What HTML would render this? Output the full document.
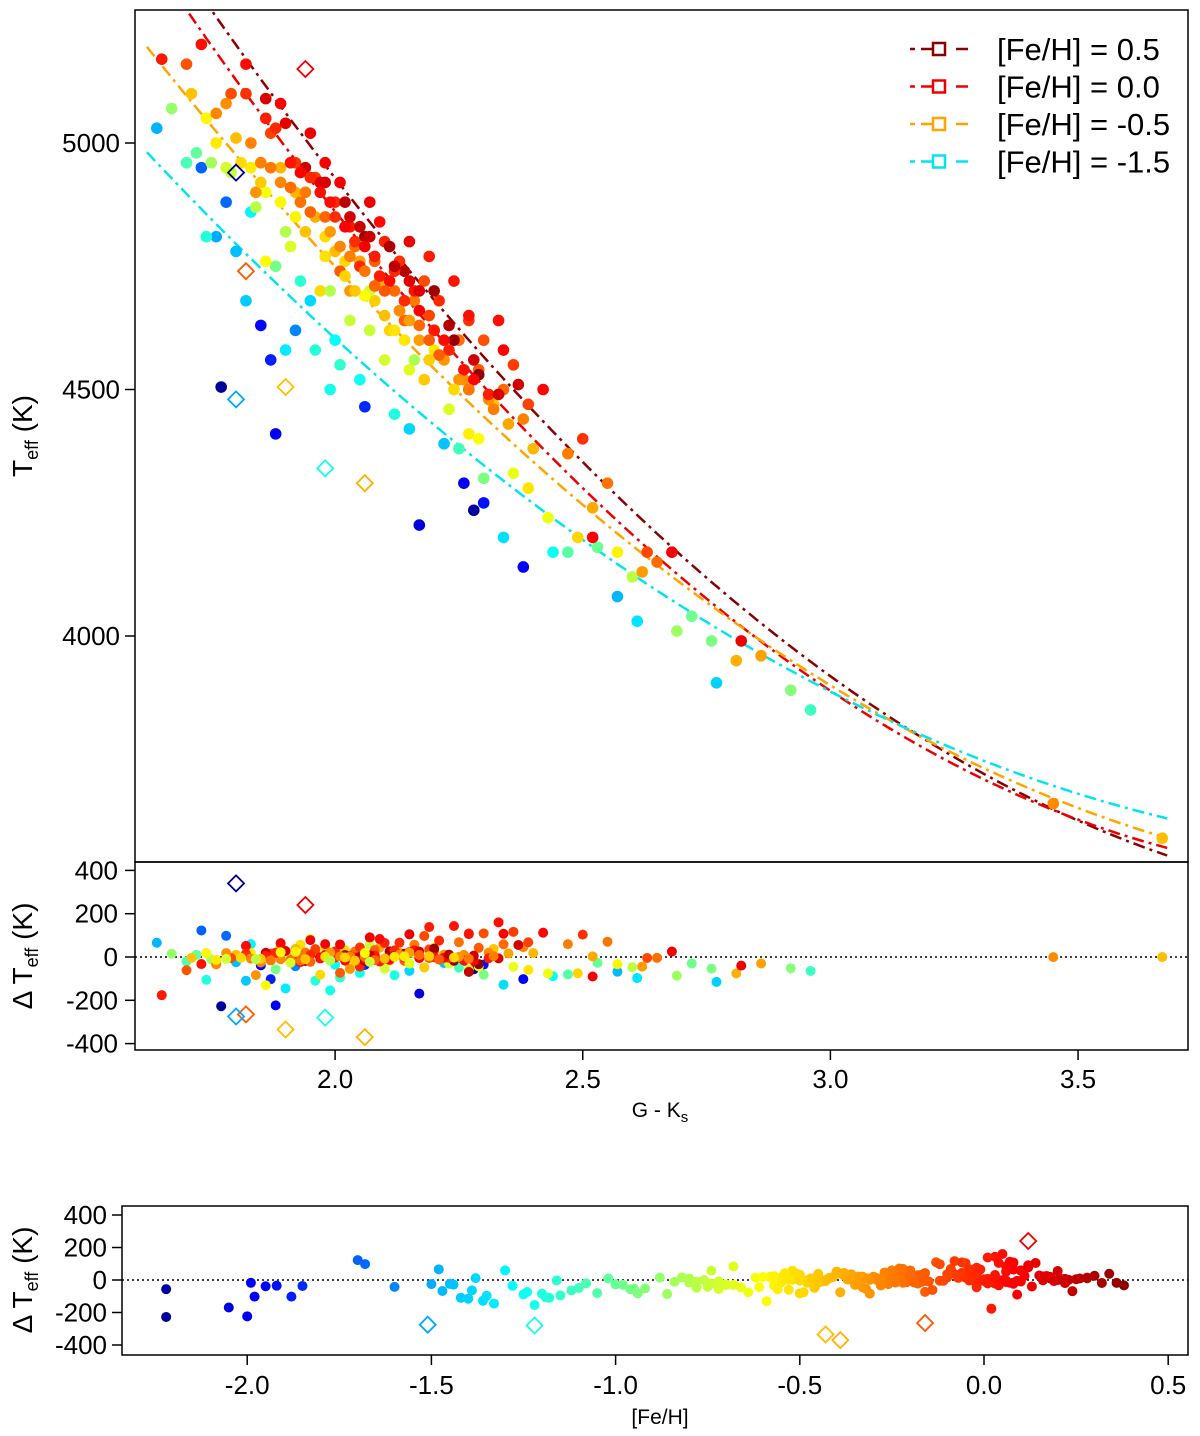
<!DOCTYPE html>
<html><head><meta charset="utf-8"><style>
html,body{margin:0;padding:0;background:#fff}
svg{display:block;font-family:"Liberation Sans",sans-serif}
</style></head><body>
<svg id="chart" width="1200" height="1436" viewBox="0 0 1200 1436" xmlns="http://www.w3.org/2000/svg"></svg>
<script>
// ---- data ----
const starColor=[1.77,1.88,1.85,1.87,2.17,2.38,2.06,2.28,2.30,2.26,1.73,1.78,
1.80,1.76,1.82,1.92,1.95,2.57,2.61,2.77,1.64,1.83,1.90,2.00,2.22,2.15,2.34,2.44,
1.99,1.96,2.01,2.12,2.25,2.47,2.53,2.72,2.76,2.92,2.96,1.70,1.72,1.88,1.93,2.05,2.30,1.74,
1.67,1.75,1.90,2.03,2.10,2.23,2.36,2.43,2.60,2.69,1.86,1.95,2.07,2.16,2.29,1.79,
1.74,1.83,1.93,2.02,2.11,2.18,2.27,2.39,2.49,2.57,1.98,2.08,2.20,2.32,1.86,1.97,
1.71,1.80,1.89,1.96,2.05,2.13,2.22,2.31,2.40,2.52,2.62,2.81,2.86,3.67,1.84,2.00,2.09,2.17,2.26,2.35,1.92,2.03,
1.76,1.85,1.94,2.04,2.12,2.20,2.29,2.38,2.47,2.55,2.65,3.45,1.98,2.08,2.16,2.25,2.34,1.89,2.01,2.14,
1.70,1.79,1.87,1.96,2.05,2.13,2.21,2.30,2.39,2.50,2.63,1.92,2.00,2.10,2.18,2.27,2.36,2.05,2.19,
1.65,1.73,1.82,1.89,1.98,2.07,2.15,2.24,2.33,2.42,2.52,2.68,2.82,2.19,2.09,2.01,2.27,2.34,1.95,2.03,
1.86,1.94,2.02,2.11,2.20,2.29,2.37,2.27,2.14,2.06,1.97,2.24,
1.82,1.86,1.91,1.95,1.99,2.02,2.04,2.08,2.11,2.14,2.17,2.20,2.23,2.26,2.28,2.31,1.88,1.97,2.06,2.12,2.16,2.22,1.93,2.00,2.09,
1.90,1.98,2.03,2.07,2.12,2.17,2.23,2.28,2.33,2.05,2.15,
1.78,1.83,1.87,1.91,1.95,1.99,2.03,2.06,2.10,2.13,2.17,2.21,2.25,2.32,1.93,2.01,2.08,2.15,2.19,2.27,
1.76,1.81,1.85,1.89,1.94,1.98,2.02,2.06,2.10,2.14,2.19,2.24,1.92,2.04,2.12,
1.78,1.84,1.91,1.99,2.07,2.15];
const starTeff=[4505,4410,4630,4560,4225,4140,4465,4255,4270,4310,4950,4880,
4780,4810,4680,4620,4680,4080,4030,3905,5030,4860,4580,4600,4390,4420,4200,4170,
4500,4580,4550,4450,4380,4170,4180,4040,3990,3890,3850,4960,4980,4750,4720,4520,4320,4810,
5070,4960,4820,4640,4560,4460,4330,4240,4120,4010,4900,4860,4700,4560,4400,4940,
5050,4950,4880,4760,4620,4520,4410,4300,4200,4170,4810,4680,4580,4470,4760,4700,
5100,5010,4950,4850,4760,4660,4560,4480,4380,4260,4130,3950,3960,3590,4900,4780,4720,4600,4520,4430,4900,4700,
5060,4960,4900,4790,4700,4620,4540,4440,4370,4310,4150,3660,4850,4760,4680,4600,4500,4920,4740,4640,
5160,5100,5020,4930,4830,4760,4680,4600,4470,4400,4170,4960,4880,4800,4720,4640,4550,4750,4650,
5170,5200,5160,5080,4960,4880,4800,4720,4640,4500,4200,4170,3990,4770,4840,4920,4650,4580,5020,4830,
5090,4950,4880,4790,4700,4530,4510,4500,4740,4810,4920,4600,
5100,5050,4960,4930,4880,4830,4800,4770,4720,4680,4660,4620,4580,4540,4520,4490,5030,4900,4790,4740,4700,4600,4940,4850,4730,
5040,4920,4850,4810,4750,4700,4630,4560,4490,4830,4720,
5080,5000,4950,4910,4860,4820,4770,4740,4700,4660,4630,4570,4520,4460,4880,4790,4710,4640,4600,4500,
5000,4960,4920,4880,4820,4770,4730,4690,4650,4600,4560,4500,4850,4700,4620,
4950,4870,4790,4700,4620,4540];
const starFeh=[-2.22,-2.0,-1.95,-1.88,-2.05,-1.98,-1.85,-2.22,-1.92,-1.99,-1.7,-1.68,
-1.45,-1.5,-1.42,-1.6,-1.38,-1.47,-1.35,-1.4,-1.48,-1.3,-1.33,-1.28,-1.44,-1.39,-1.36,-1.25,
-1.22,-1.18,-1.15,-1.2,-1.1,-1.05,-1.0,-0.98,-0.95,-0.92,-1.12,-1.08,-1.02,-0.96,-1.16,-1.24,-0.94,-1.19,
-0.88,-0.84,-0.8,-0.75,-0.72,-0.7,-0.66,-0.64,-0.78,-0.86,-0.62,-0.68,-0.74,-0.82,-0.61,-0.76,
-0.58,-0.55,-0.52,-0.5,-0.48,-0.46,-0.56,-0.53,-0.49,-0.57,-0.51,-0.47,-0.54,-0.45,-0.59,-0.5,
-0.44,-0.42,-0.4,-0.38,-0.36,-0.34,-0.32,-0.3,-0.41,-0.37,-0.33,-0.39,-0.35,-0.43,-0.31,-0.42,-0.38,-0.34,-0.3,-0.36,-0.4,-0.32,
-0.28,-0.26,-0.24,-0.22,-0.2,-0.18,-0.16,-0.27,-0.25,-0.23,-0.21,-0.29,-0.19,-0.17,-0.25,-0.22,-0.2,-0.28,-0.16,-0.18,
-0.14,-0.12,-0.1,-0.08,-0.06,-0.04,-0.02,-0.13,-0.09,-0.05,-0.11,-0.07,-0.03,-0.01,-0.12,-0.06,-0.08,-0.02,-0.1,
0.02,0.04,0.06,0.08,0.1,0.12,0.14,0.03,0.05,0.07,0.09,0.11,0.13,0.01,0.06,0.1,0.04,0.08,0.12,0.02,
0.18,0.22,0.26,0.3,0.34,0.38,0.2,0.24,0.28,0.32,0.16,0.36,
-0.05,0.0,0.03,-0.02,0.05,0.08,-0.04,0.01,0.06,-0.03,0.09,0.02,-0.01,0.04,0.07,0.0,-0.03,0.05,0.1,-0.02,0.03,0.06,0.08,-0.04,0.01,
0.15,0.18,0.2,0.22,0.25,0.17,0.28,0.21,0.19,0.23,0.16,
-0.3,-0.27,-0.24,-0.21,-0.18,-0.33,-0.26,-0.23,-0.15,-0.29,-0.2,-0.17,-0.31,-0.25,-0.22,-0.28,-0.19,-0.34,-0.16,-0.24,
-0.55,-0.5,-0.46,-0.58,-0.44,-0.52,-0.48,-0.6,-0.43,-0.54,-0.47,-0.5,-0.57,-0.45,-0.53,
-0.72,-0.78,-0.7,-0.8,-0.74,-0.68];
// outliers (diamonds)
const outColor=[1.94,1.82,1.90,1.80,1.98,2.06,1.80];
const outTeff=[5150,4740,4505,4480,4340,4310,4940];
const outDelta=[240,-265,-335,-275,-280,-370,340];
const outFeh=[0.12,-0.16,-0.43,-1.51,-1.22,-0.39,-2.4];
// fit relations
const fitFeh=[0.5,0.0,-0.5,-1.5];
const fitA=[8648.3,8606.3,7855.4,7244.2];
const fitB=[-2425.9,-2472.5,-2022.0,-1722.9];
const fitC=[283.1,300.0,234.5,201.3];
const fitColors=['#8B0000','#EE0000','#FFA500','#00E5EE'];
const fitLabels=['[Fe/H] = 0.5','[Fe/H] = 0.0','[Fe/H] = -0.5','[Fe/H] = -1.5'];
const teffTicks=[4000,4500,5000];
const colorTicks=[2.0,2.5,3.0,3.5];
const dTicks=[400,200,0,-200,-400];
const fehTicks=[-2.0,-1.5,-1.0,-0.5,0.0,0.5];

// ---- scales ----
const X=v=>135+(v-1.596)*495.3;
const Ym=v=>143-(v-5000)*0.493;
const Yr=v=>957-v*0.2165;
const Xf=v=>984+v*368.4;
const Yb=v=>1280-v*0.1625;
const svg=document.getElementById('chart');
const NS='http://www.w3.org/2000/svg';
function mk(tag,attrs,parent){const e=document.createElementNS(NS,tag);for(const k in attrs)e.setAttribute(k,attrs[k]);(parent||svg).appendChild(e);return e;}
function jet(f){const t=Math.max(0,Math.min(1,(f+2.3)/2.72));const c=x=>Math.round(255*Math.max(0,Math.min(1,1.5-Math.abs(4*t-x))));return `rgb(${c(3)},${c(2)},${c(1)})`;}
function coef(f){let i;if(f>=0)i=0;else if(f>=-0.5)i=1;else i=2;const f0=fitFeh[i],f1=fitFeh[i+1];let w=(f-f0)/(f1-f0);w=Math.max(-0.5,Math.min(1.5,w));
 return [fitA[i]+(fitA[i+1]-fitA[i])*w,fitB[i]+(fitB[i+1]-fitB[i])*w,fitC[i]+(fitC[i+1]-fitC[i])*w];}
function fit(x,f){const k=coef(f);return k[0]+k[1]*x+k[2]*x*x;}

const defs=mk('defs',{});
const cp=mk('clipPath',{id:'cm'},defs);mk('rect',{x:135,y:10,width:1053,height:852},cp);
const cp2=mk('clipPath',{id:'cr'},defs);mk('rect',{x:135,y:862,width:1053,height:188},cp2);

const gMain=mk('g',{'clip-path':'url(#cm)'});


fitFeh.forEach((f,i)=>{let d='';for(let x=1.62;x<=3.68;x+=0.01){const T=fitA[i]+fitB[i]*x+fitC[i]*x*x;d+=(d?'L':'M')+X(x).toFixed(1)+','+Ym(T).toFixed(1);}
 const p=mk('path',{d:d,fill:'none',stroke:fitColors[i],'stroke-width':2.5,'stroke-dasharray':'12,5,3,5'},gMain);
 
 });
starColor.forEach((x,i)=>{const c=mk('circle',{cx:X(x),cy:Ym(starTeff[i]),r:5.8,fill:jet(starFeh[i])},gMain);
 
 });
function diamond(cx,cy,col,parent){const s=8;const p=mk('polygon',{points:`${cx},${cy-s} ${cx+s},${cy} ${cx},${cy+s} ${cx-s},${cy}`,fill:'none',stroke:col,'stroke-width':1.8},parent);
 
 }
outColor.forEach((x,i)=>diamond(X(x),Ym(outTeff[i]),outFeh[i]<-2.3?'#00008B':jet(outFeh[i]),gMain));

const gRes=mk('g',{'clip-path':'url(#cr)'});


mk('line',{x1:135,x2:1188,y1:Yr(0),y2:Yr(0),stroke:'#000','stroke-dasharray':'2,3','stroke-width':1.5},gRes);
starColor.forEach((x,i)=>{const d=starTeff[i]-fit(x,starFeh[i]);const c=mk('circle',{cx:X(x),cy:Yr(d),r:5,fill:jet(starFeh[i])},gRes);
 
 });
outColor.forEach((x,i)=>diamond(X(x),Yr(outDelta[i]),outFeh[i]<-2.3?'#00008B':jet(outFeh[i]),gRes));

const gB=mk('g',{});


mk('line',{x1:122,x2:1188,y1:Yb(0),y2:Yb(0),stroke:'#000','stroke-dasharray':'2,3','stroke-width':1.5},gB);
starFeh.forEach((f,i)=>{const d=starTeff[i]-fit(starColor[i],f);const c=mk('circle',{cx:Xf(f),cy:Yb(d),r:5,fill:jet(f)},gB);
 
 });
outFeh.forEach((f,i)=>{if(f>-2.3)diamond(Xf(f),Yb(outDelta[i]),jet(f),gB);});

mk('rect',{x:135,y:10,width:1053,height:852,fill:'none',stroke:'#000','stroke-width':1.5});
mk('rect',{x:135,y:862,width:1053,height:188,fill:'none',stroke:'#000','stroke-width':1.5});
mk('rect',{x:122,y:1206,width:1066,height:149,fill:'none',stroke:'#000','stroke-width':1.5});
function txt(s,x,y,attrs,name){const t=mk('text',Object.assign({x:x,y:y,'font-size':26,fill:'#000'},attrs||{}));t.textContent=s;
 
 return t;}
teffTicks.forEach(v=>{mk('line',{x1:125,x2:135,y1:Ym(v),y2:Ym(v),stroke:'#000','stroke-width':1.5});txt(String(v),120,Ym(v)+9,{'text-anchor':'end'},'teff-tick-label');});
dTicks.forEach(v=>{mk('line',{x1:125,x2:135,y1:Yr(v),y2:Yr(v),stroke:'#000','stroke-width':1.5});txt(String(v),118,Yr(v)+9,{'text-anchor':'end'},'dteff-tick-label');
 mk('line',{x1:112,x2:122,y1:Yb(v),y2:Yb(v),stroke:'#000','stroke-width':1.5});txt(String(v),107,Yb(v)+9,{'text-anchor':'end'},'feh-dteff-tick-label');});
colorTicks.forEach(v=>{mk('line',{x1:X(v),x2:X(v),y1:1050,y2:1060,stroke:'#000','stroke-width':1.5});txt(v.toFixed(1),X(v),1088,{'text-anchor':'middle'},'colour-tick-label');});
fehTicks.forEach(v=>{mk('line',{x1:Xf(v),x2:Xf(v),y1:1355,y2:1365,stroke:'#000','stroke-width':1.5});txt(v.toFixed(1),Xf(v),1394,{'text-anchor':'middle'},'feh-tick-label');});
const t1=txt('',32,436,{transform:'rotate(-90 32 436)','text-anchor':'middle','font-size':28},'teff-axis-title');t1.innerHTML='T<tspan font-size="18" dy="6">eff</tspan><tspan dy="-6"> (K)</tspan>';
const t2=txt('',32,956,{transform:'rotate(-90 32 956)','text-anchor':'middle','font-size':28},'dteff-axis-title');t2.innerHTML='Δ T<tspan font-size="18" dy="6">eff</tspan><tspan dy="-6"> (K)</tspan>';
const t3=txt('',32,1280,{transform:'rotate(-90 32 1280)','text-anchor':'middle','font-size':28},'feh-dteff-axis-title');t3.innerHTML='Δ T<tspan font-size="18" dy="6">eff</tspan><tspan dy="-6"> (K)</tspan>';
const t4=txt('',660,1117,{'text-anchor':'middle','font-size':21},'colour-axis-title');t4.innerHTML='G - K<tspan font-size="15" dy="5">s</tspan>';
txt('[Fe/H]',660,1424,{'text-anchor':'middle','font-size':21},'feh-axis-title');
fitLabels.forEach((s,i)=>{const y=49+i*37.5;const g=mk('g',{});
 
 
 mk('line',{x1:910,x2:915,y1:y,y2:y,stroke:fitColors[i],'stroke-width':2.5},g);
 mk('line',{x1:921,x2:933,y1:y,y2:y,stroke:fitColors[i],'stroke-width':2.5},g);
 mk('rect',{x:933,y:y-6,width:12,height:12,fill:'none',stroke:fitColors[i],'stroke-width':2.5},g);
 mk('line',{x1:956,x2:968,y1:y,y2:y,stroke:fitColors[i],'stroke-width':2.5},g);
 txt(s,997,y+11,{'font-size':31},'legend-label');});
</script>
</body></html>
